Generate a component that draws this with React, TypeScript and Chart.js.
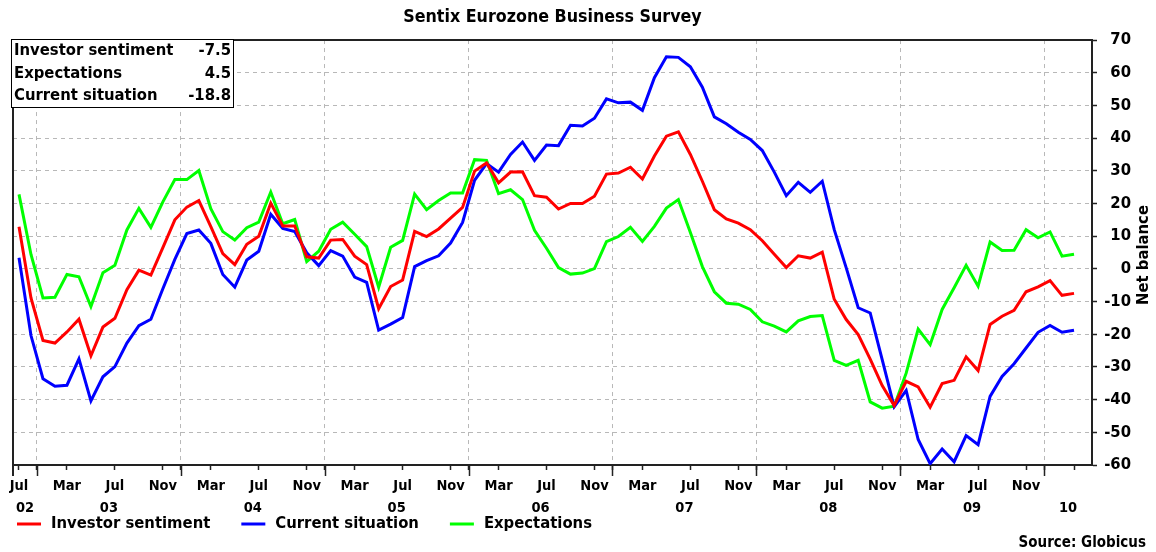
import React, { useEffect, useRef } from "react";
import { Chart, registerables } from "chart.js";

Chart.register(...registerables);

const FONT = '"DejaVu Sans Condensed", "DejaVu Sans", Verdana, sans-serif';

// Monthly values, Nov 2002 .. Mar 2010
const investorSentiment = [
  12.9, -8.9, -21.9, -22.7, -19.3, -15.4, -26.6, -17.8, -15.1, -6.4,
  -0.4, -1.9, 6.5, 15.0, 18.9, 20.9, 12.9, 4.7, 1.3, 7.5,
  10.0, 20.1, 13.1, 13.1, 3.7, 3.3, 8.8, 9.0, 3.9, 1.3,
  -12.2, -5.4, -3.4, 11.5, 9.9, 12.2, 15.5, 18.8, 29.9, 32.4,
  26.3, 29.6, 29.7, 22.4, 21.9, 18.3, 20.0, 20.0, 22.2, 29.0,
  29.3, 31.1, 27.5, 34.5, 40.6, 41.9, 35.0, 26.8, 18.1, 15.3,
  14.0, 12.0, 8.6, 4.5, 0.4, 4.0, 3.3, 5.1, -9.3, -15.5,
  -20.1, -27.6, -35.7, -41.8, -34.4, -36.1, -42.3, -35.1, -34.1, -26.9,
  -31.1, -17.0, -14.5, -12.7, -7.0, -5.5, -3.6, -8.1, -7.5,
];

const currentSituation = [
  3.4, -20.4, -33.6, -35.9, -35.6, -27.5, -40.4, -33.0, -29.9, -22.7,
  -17.4, -15.4, -6.1, 2.9, 10.8, 11.9, 7.8, -1.7, -5.6, 2.7,
  5.4, 16.7, 12.4, 11.4, 4.9, 1.0, 5.6, 3.9, -2.5, -4.1,
  -18.7, -16.9, -14.9, 0.7, 2.5, 4.0, 7.9, 14.2, 27.1, 32.2,
  29.6, 35.0, 38.8, 33.2, 37.9, 37.7, 43.9, 43.7, 46.1, 52.0,
  50.8, 51.0, 48.5, 58.5, 64.9, 64.7, 61.8, 55.6, 46.5, 44.4,
  41.8, 39.6, 36.2, 29.6, 22.4, 26.5, 23.4, 26.8, 12.0, 0.3,
  -11.9, -13.5, -27.8, -42.2, -37.2, -52.2, -59.6, -55.1, -59.0, -51.0,
  -53.8, -39.0, -32.9, -29.0, -24.2, -19.4, -17.3, -19.4, -18.8,
];

const expectations = [
  22.8, 4.4, -8.9, -8.7, -1.7, -2.4, -11.5, -1.2, 1.1, 11.9,
  18.5, 12.7, 20.5, 27.3, 27.3, 30.1, 18.4, 11.4, 8.8, 12.6,
  14.3, 23.5, 13.8, 15.1, 2.2, 5.4, 12.1, 14.3, 10.6, 6.8,
  -5.6, 6.6, 8.7, 22.9, 18.1, 20.9, 23.2, 23.2, 33.4, 33.2,
  23.0, 24.2, 21.2, 11.8, 6.3, 0.4, -1.6, -1.3, 0.1, 8.3,
  9.9, 12.7, 8.4, 13.0, 18.6, 21.2, 11.1, 0.7, -7.0, -10.5,
  -10.8, -12.4, -16.2, -17.5, -19.3, -15.9, -14.6, -14.3, -28.0, -29.5,
  -28.0, -40.7, -42.6, -42.0, -31.9, -18.4, -23.2, -12.4, -5.8, 1.1,
  -5.3, 8.2, 5.6, 5.7, 12.0, 9.5, 11.3, 3.9, 4.5,
];

// Month tick labels, every 4 months starting with the first observation
const monthTickLabels = [
  "Jul", "Mar", "Jul", "Nov", "Mar", "Jul", "Nov", "Mar", "Jul", "Nov", "Mar",
  "Jul", "Nov", "Mar", "Jul", "Nov", "Mar", "Jul", "Nov", "Mar", "Jul", "Nov",
];
const yearLabels = ["02", "03", "04", "05", "06", "07", "08", "09", "10"];

const yMin = -60;
const yMax = 70;
const yStep = 10;

const summaryLabels = ["Investor sentiment", "Expectations", "Current situation"];
const summaryValues = ["-7.5", "4.5", "-18.8"];

const seriesNames = ["Investor sentiment", "Current situation", "Expectations"];
const seriesColors = ["#ff0000", "#0000ff", "#00ff00"];

const titleText = "Sentix Eurozone Business Survey";
const axisTitle = "Net balance";
const sourceText = "Source: Globicus";

const X_MIN = -0.5;
const X_MAX = 89.5;

type TickDef = { value: number; label: string | string[]; kind: "month" | "boundary" | "year" };

function buildTickDefs(): TickDef[] {
  const defs: TickDef[] = [];
  monthTickLabels.forEach((l, k) => defs.push({ value: 4 * k, label: l, kind: "month" }));
  defs.push({ value: 4 * monthTickLabels.length, label: "", kind: "month" });
  for (let b = 1.5; b < X_MAX; b += 12) defs.push({ value: b, label: "", kind: "boundary" });
  yearLabels.forEach((y, k) => {
    const lo = k === 0 ? X_MIN : 1.5 + 12 * (k - 1);
    const hi = Math.min(X_MAX, 1.5 + 12 * k);
    defs.push({ value: (lo + hi) / 2, label: ["", y], kind: "year" });
  });
  defs.sort((a, b) => a.value - b.value);
  return defs;
}

const tickDefs = buildTickDefs();
const tickByValue = new Map<number, TickDef>();
tickDefs.forEach((t) => tickByValue.set(t.value, t));

const AXIS_COLOR = "#222";
const GRID_COLOR = "#b8b8b8";

const extrasPlugin = {
  id: "extras",
  afterDraw(chart: any) {
    const ctx = chart.ctx as CanvasRenderingContext2D;
    const area = chart.chartArea;
    const xs = chart.scales.x;
    ctx.save();

    // frame: top and left lines
    ctx.strokeStyle = AXIS_COLOR;
    ctx.lineWidth = 2;
    ctx.beginPath();
    ctx.moveTo(area.left, area.top);
    ctx.lineTo(area.right, area.top);
    ctx.moveTo(area.left, area.top);
    ctx.lineTo(area.left, area.bottom + 11);
    ctx.stroke();

    // long ticks at year boundaries
    ctx.lineWidth = 1.5;
    ctx.beginPath();
    tickDefs.forEach((t) => {
      if (t.kind !== "boundary") return;
      const px = Math.round(xs.getPixelForValue(t.value)) + 0.5;
      ctx.moveTo(px, area.bottom);
      ctx.lineTo(px, area.bottom + 11);
    });
    ctx.stroke();

    // summary box
    const bx = 11.5, by = 39.5, bw = 222, bh = 68;
    ctx.fillStyle = "#fff";
    ctx.fillRect(bx, by, bw, bh);
    ctx.strokeStyle = "#000";
    ctx.lineWidth = 1;
    ctx.strokeRect(bx, by, bw, bh);
    ctx.fillStyle = "#000";
    ctx.font = `bold 16.5px ${FONT}`;
    ctx.textBaseline = "middle";
    const rowY = [51, 73.5, 96];
    summaryLabels.forEach((l, i) => {
      ctx.textAlign = "left";
      ctx.fillText(l, 14, rowY[i]);
      ctx.textAlign = "right";
      ctx.fillText(summaryValues[i], 231, rowY[i]);
    });

    // legend
    ctx.font = `bold 16.5px ${FONT}`;
    ctx.textAlign = "left";
    let lx = 17;
    const ly = 524;
    seriesNames.forEach((name, i) => {
      ctx.strokeStyle = seriesColors[i];
      ctx.lineWidth = 3;
      ctx.beginPath();
      ctx.moveTo(lx, ly);
      ctx.lineTo(lx + 24, ly);
      ctx.stroke();
      ctx.fillStyle = "#000";
      ctx.fillText(name, lx + 34, ly);
      lx += 34 + ctx.measureText(name).width + 31;
    });

    // source
    ctx.font = `bold 15px ${FONT}`;
    ctx.textAlign = "right";
    ctx.fillText(sourceText, 1146, 543);

    // rotated axis title
    ctx.font = `bold 16.5px ${FONT}`;
    ctx.translate(1144, 255);
    ctx.rotate(-Math.PI / 2);
    ctx.textAlign = "center";
    ctx.fillText(axisTitle, 0, 0);
    ctx.restore();
  },
};

export default function App() {
  const canvasRef = useRef<HTMLCanvasElement | null>(null);

  useEffect(() => {
    const canvas = canvasRef.current;
    if (!canvas) return;
    const mk = (arr: number[]) => arr.map((v, i) => ({ x: i, y: v }));
    const series = [investorSentiment, currentSituation, expectations];
    const chart = new Chart(canvas, {
      type: "line",
      data: {
        datasets: series.map((arr, i) => ({
          label: seriesNames[i],
          data: mk(arr),
          borderColor: seriesColors[i],
          backgroundColor: seriesColors[i],
          borderWidth: 3,
          pointRadius: 0,
          tension: 0,
          fill: false,
        })),
      },
      options: {
        animation: false,
        responsive: false,
        devicePixelRatio: 1,
        layout: { padding: { left: 13, right: 25, top: 0, bottom: 0 } },
        plugins: {
          legend: { display: false },
          tooltip: { enabled: false },
          title: {
            display: true,
            text: titleText,
            fullSize: false,
            color: "#000",
            font: { family: FONT, size: 17.7, weight: "bold", lineHeight: 1.2 },
            padding: { top: 6.5, bottom: 12.3 },
          },
        },
        scales: {
          x: {
            type: "linear",
            min: X_MIN,
            max: X_MAX,
            afterBuildTicks: (s: any) => {
              s.ticks = tickDefs.map((t) => ({ value: t.value }));
            },
            afterFit: (s: any) => {
              s.height = 87;
            },
            ticks: {
              autoSkip: false,
              maxRotation: 0,
              minRotation: 0,
              padding: 5,
              color: "#000",
              font: { family: FONT, size: 14.5, weight: "bold", lineHeight: 22 / 14.5 },
              callback: (v: any) => {
                const t = tickByValue.get(Number(v));
                return t ? t.label : "";
              },
            },
            grid: {
              drawOnChartArea: true,
              color: (c: any) => {
                const t = c.tick && tickByValue.get(c.tick.value);
                return t && t.kind === "boundary" ? GRID_COLOR : "rgba(0,0,0,0)";
              },
              lineWidth: 1,
              tickLength: 5,
              tickWidth: 1.5,
              tickColor: (c: any) => {
                const t = c.tick && tickByValue.get(c.tick.value);
                return t && t.kind !== "year" ? AXIS_COLOR : "rgba(0,0,0,0)";
              },
            },
            border: { display: true, color: AXIS_COLOR, width: 2, dash: [4, 4] },
          },
          y: {
            position: "right",
            min: yMin,
            max: yMax,
            afterFit: (s: any) => {
              s.width = 39;
            },
            ticks: {
              stepSize: yStep,
              color: "#000",
              padding: 9,
              crossAlign: "far",
              font: { family: FONT, size: 16.5, weight: "bold" },
            },
            grid: {
              color: (c: any) =>
                c.tick && (c.tick.value === yMax || c.tick.value === yMin) ? "rgba(0,0,0,0)" : GRID_COLOR,
              lineWidth: 1,
              tickLength: 5,
              tickWidth: 1.5,
              tickColor: AXIS_COLOR,
            },
            border: { display: true, color: AXIS_COLOR, width: 2, dash: [4, 4] },
          },
        },
      } as any,
      plugins: [extrasPlugin],
    });
    return () => chart.destroy();
  }, []);

  return (
    <div style={{ position: "absolute", left: 0, top: 0, width: 1156, height: 552, background: "#fff" }}>
      <canvas ref={canvasRef} width={1156} height={552} />
    </div>
  );
}
